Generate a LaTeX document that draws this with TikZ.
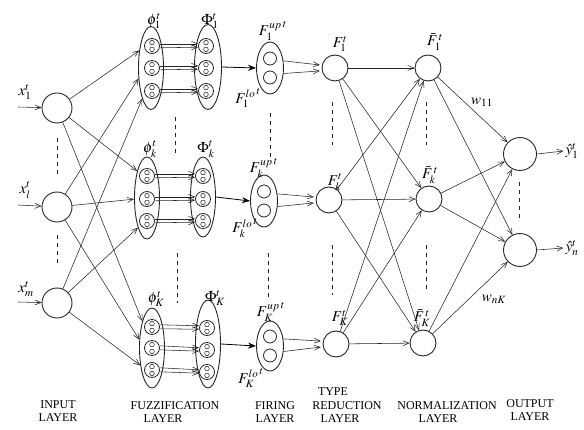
\documentclass[tikz,border=0pt]{standalone}
\usepackage{mathptmx}
\usepackage{fontspec}
\setmainfont{Liberation Serif}
\usetikzlibrary{arrows.meta,shapes.geometric}
\begin{document}
\begin{tikzpicture}[x=1pt,y=-1pt,
  ln/.style={draw=black!85,line width=0.55pt},
  arr/.style={ln,-{Straight Barb[length=6pt,width=5pt]}},
  thick arr/.style={draw=black,line width=0.8pt,-{Stealth[length=8pt,width=6pt]}},
  dsh/.style={draw=black!85,line width=0.6pt,dash pattern=on 4.5pt off 3.5pt},
  neu/.style={circle,draw=black!85,line width=0.9pt,inner sep=0pt,minimum size=#1},
  fz/.style={ellipse,draw=black!85,line width=0.9pt,inner sep=0pt,minimum width=25pt,minimum height=#1},
  mf/.style={circle,draw=black!85,line width=0.8pt,inner sep=0pt,minimum size=15pt,
    path picture={\draw[line width=0.55pt,black!85]
      ([yshift=3.4pt]path picture bounding box.center) circle[radius=2.3pt]
      ([yshift=-3.4pt]path picture bounding box.center) circle[radius=2.3pt];}},
  fire/.style={ellipse,draw=black!85,line width=0.9pt,inner sep=0pt,minimum width=27pt,minimum height=52pt,
    path picture={\draw[line width=0.8pt,black!85]
      ([yshift=9.5pt]path picture bounding box.center) circle[radius=6.5pt]
      ([yshift=-9.5pt]path picture bounding box.center) circle[radius=6.5pt];}},
  lab/.style={inner sep=0pt,font=\fontsize{15}{17}\selectfont},
  captxt/.style={inner sep=0pt,font=\fontsize{12}{14}\selectfont}
]
\useasboundingbox (0,0) rectangle (584,430);

% ---------- input layer ----------
\node[neu=30pt] (in1) at (57,108) {};
\node[neu=30pt] (in2) at (57,207) {};
\node[neu=30pt] (in3) at (57,303) {};
\coordinate (s1) at (18,107);
\coordinate (s2) at (18,205);
\coordinate (s3) at (18,302);
\draw[arr] (s1) -- (in1);
\draw[arr] (s2) -- (in2);
\draw[arr] (s3) -- (in3);
\node[lab] (x1) at (25,92) {$x_1^t$};
\node[lab] (x2) at (25,190) {$x_l^t$};
\node[lab] (x3) at (26,289) {$x_m^t$};

% ---------- fuzzification layer ----------
\node[fz=83pt] (L1) at (151,68) {};
\node[fz=82pt] (L2) at (147,198) {};
\node[fz=80pt] (L3) at (152,348) {};
\node[fz=85pt,minimum width=27pt] (R1) at (208,67) {};
\node[fz=80pt] (R2) at (203,197) {};
\node[fz=88pt] (R3) at (208,344) {};

\node[mf] (l11) at (152,46) {};
\node[mf] (l12) at (152,68) {};
\node[mf] (l13) at (152,91) {};
\node[mf] (r11) at (206,46) {};
\node[mf] (r12) at (206,68) {};
\node[mf] (r13) at (206,91) {};

\node[mf] (l21) at (147,176) {};
\node[mf] (l22) at (147,199) {};
\node[mf] (l23) at (147,221) {};
\node[mf] (r21) at (203,176) {};
\node[mf] (r22) at (203,199) {};
\node[mf] (r23) at (203,221) {};

\node[mf] (l31) at (152,327) {};
\node[mf] (l32) at (152,348) {};
\node[mf] (l33) at (152,370) {};
\node[mf] (r31) at (207,328) {};
\node[mf] (r32) at (207,350) {};
\node[mf] (r33) at (207,372) {};

\foreach \b in {1,2,3}{
  \foreach \r in {1,2,3}{
    \draw[arr] ([yshift=2.2pt]l\b\r.east) -- ([yshift=2.2pt]r\b\r.west);
    \draw[arr] ([yshift=-1.8pt]l\b\r.east) -- ([yshift=-1.2pt]r\b\r.west);
  }
}

\node[lab] (p1) at (154,21) {$\phi_1^t$};
\node[lab] (P1) at (210,21) {$\Phi_1^t$};
\node[lab] (p2) at (150,149) {$\phi_k^t$};
\node[lab] (P2) at (206,149) {$\Phi_k^t$};
\node[lab] (p3) at (156,299) {$\phi_K^t$};
\node[lab] (P3) at (215,298) {$\Phi_K^t$};

% input -> fuzzification
\draw[arr] (in1) -- (L1.124);
\draw[arr] (in2) -- (L1.220);
\draw[arr] (in3) -- (L1.254);
\draw[arr] (in1) -- (L2.110);
\draw[arr] (in2) -- (L2.185);
\draw[arr] (in3) -- (L2.253);
\draw[arr] (in1) -- (L3.110);
\draw[arr] (in2) -- (L3.147);
\draw[arr] (in3) -- (L3.236);

% ---------- firing layer ----------
\node[fire] (F1) at (270,68) {};
\node[fire] (F2) at (264,201) {};
\node[fire,minimum height=50pt] (F3) at (270,346) {};
\draw[thick arr] (R1.east) -- (F1.west);
\draw[thick arr] (R2.east) -- (F2.west);
\draw[thick arr] (R3.east) -- (F3.west);

\node[lab] (f1u) at (273,31) {${F_1^{up}}^{\,t}$};
\node[lab] (f1l) at (248,98) {${F_1^{lo}}^{\,t}$};
\node[lab] (f2u) at (264,168) {${F_k^{up}}^{\,t}$};
\node[lab] (f2l) at (245,228) {${F_k^{lo}}^{\,t}$};
\node[lab] (f3u) at (271,312) {${F_K^{up}}^{\,t}$};
\node[lab] (f3l) at (251,378) {${F_K^{lo}}^{\,t}$};

% ---------- type reduction layer ----------
\node[neu=26pt] (t1) at (335,68) {};
\node[neu=26pt] (t2) at (329,200) {};
\node[neu=26pt] (t3) at (336,344) {};
\node[lab] (tl1) at (340,44) {$F_1^t$};
\node[lab] (tl2) at (335,182) {$F_k^t$};
\node[lab] (tl3) at (340,318) {$F_K^t$};

\draw[arr,shorten >=2pt] (F1.28) -- (t1.168);
\draw[arr,shorten >=2pt] (F1.-22) -- (t1.192);
\draw[arr,shorten >=2pt] (F2.28) -- (t2.168);
\draw[arr,shorten >=2pt] (F2.-22) -- (t2.192);
\draw[arr,shorten >=2pt] (F3.28) -- (t3.168);
\draw[arr,shorten >=2pt] (F3.-22) -- (t3.192);

% ---------- normalization layer ----------
\node[neu=26pt] (n1) at (428,68) {};
\node[neu=26pt] (n2) at (429,199) {};
\node[neu=26pt] (n3) at (423,343) {};
\node[lab] (nl1) at (435,42) {$\bar{F}_1^{\,t}$};
\node[lab] (nl2) at (430,175) {$\bar{F}_k^{\,t}$};
\node[lab] (nl3) at (422,318) {$\bar{F}_K^{\,t}$};

\foreach \i in {1,2,3}{
  \foreach \j in {1,2,3}{
    \draw[arr] (t\i) -- (n\j);
  }
}

% ---------- output layer ----------
\node[neu=33pt] (o1) at (520,154) {};
\node[neu=33pt] (o2) at (520,250) {};
\foreach \i in {1,2,3}{
  \foreach \k in {1,2}{
    \draw[arr] (n\i) -- (o\k);
  }
}
\node[lab] (y1) at (572,151) {$\hat{y}_1^t$};
\node[lab] (y2) at (572,248) {$\hat{y}_n^t$};
\draw[arr] (o1.east) -- ([xshift=-2pt]y1.west);
\draw[arr] (o2.east) -- ([xshift=-2pt]y2.west);
\node[lab] (w1) at (482,102) {$w_{11}$};
\node[lab] (w2) at (494,299) {$w_{nK}$};

% ---------- dashed separators ----------
\draw[dsh] (57,138) -- (57,178);
\draw[dsh] (57,235) -- (57,267);
\draw[dsh] (175,117) -- (175,157);
\draw[dsh] (177,253) -- (177,303);
\draw[dsh] (270,113) -- (270,157);
\draw[dsh] (268,253) -- (268,300);
\draw[dsh] (332,102) -- (332,145);
\draw[dsh] (332,245) -- (332,295);
\draw[dsh] (426,102) -- (426,145);
\draw[dsh] (426,245) -- (426,292);
\draw[dsh] (519,182) -- (519,220);

% ---------- captions ----------
\node[captxt] (c1a) at (58,405) {INPUT};
\node[captxt] (c1b) at (58,418) {LAYER};
\node[captxt] (c2a) at (175,406) {FUZZIFICATION};
\node[captxt] (c2b) at (163,419) {LAYER};
\node[captxt] (c3a) at (275,406) {FIRING};
\node[captxt] (c3b) at (275,419) {LAYER};
\node[captxt] (c4a) at (333,392) {TYPE};
\node[captxt] (c4b) at (347,406) {REDUCTION};
\node[captxt] (c4c) at (340,419) {LAYER};
\node[captxt] (c5a) at (447,406) {NORMALIZATION};
\node[captxt] (c5b) at (438,419) {LAYER};
\node[captxt] (c6a) at (530,404) {OUTPUT};
\node[captxt] (c6b) at (530,417) {LAYER};
\end{tikzpicture}
\end{document}
